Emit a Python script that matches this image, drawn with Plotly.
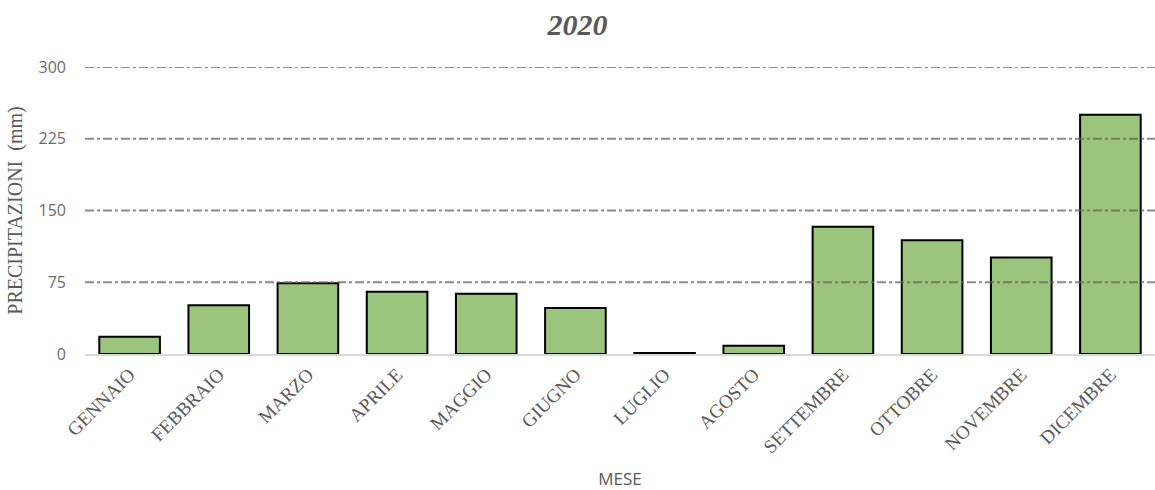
import plotly.graph_objects as go

# Monthly precipitation, 2020
mesi = ["GENNAIO", "FEBBRAIO", "MARZO", "APRILE", "MAGGIO", "GIUGNO",
        "LUGLIO", "AGOSTO", "SETTEMBRE", "OTTOBRE", "NOVEMBRE", "DICEMBRE"]
precipitazioni = [18, 51, 74, 65, 63, 48, 1, 8.5, 133, 119, 101, 250]
y_ticks = [0, 75, 150, 225, 300]

fig = go.Figure()
fig.add_trace(go.Bar(
    x=mesi,
    y=precipitazioni,
    marker=dict(color="#9bc47d", line=dict(color="#000000", width=2)),
    hovertemplate="%{x}: %{y} mm<extra></extra>",
))

# dash-dot gridlines drawn over the bars
for t in y_ticks[1:]:
    fig.add_shape(type="line", xref="paper", yref="y", x0=0, x1=1, y0=t, y1=t,
                  layer="above",
                  line=dict(color="rgba(100,100,100,0.75)", width=2, dash="dashdot"))

fig.update_layout(
    width=1155, height=490,
    margin=dict(l=85, r=0, t=67, b=136),
    plot_bgcolor="white", paper_bgcolor="white",
    bargap=0.32,
    showlegend=False,
    title=dict(text="<b><i>2020</i></b>", x=0.5, xanchor="center", y=0.949, yanchor="middle",
               font=dict(family="Liberation Serif", size=30, color="#595959")),
)
fig.update_xaxes(
    automargin=False,
    tickangle=-45,
    tickfont=dict(family="Liberation Serif", size=19, color="#595959"),
    title=dict(text="MESE", font=dict(family="Open Sans", size=17, color="#595959"), standoff=24),
    showline=True, linecolor="#d9d9d9", linewidth=2,
    ticks="", showgrid=False,
)
fig.update_yaxes(
    automargin=False,
    range=[0, 300], tickvals=y_ticks,
    tickfont=dict(family="Open Sans", size=16, color="#6b6b6b"),
    title=dict(text="PRECIPITAZIONI  (mm)", font=dict(family="Liberation Serif", size=20, color="#595959"),
               standoff=10),
    showgrid=False, zeroline=False, ticks="", ticklabelstandoff=18,
)

fig.write_html("out.html")
